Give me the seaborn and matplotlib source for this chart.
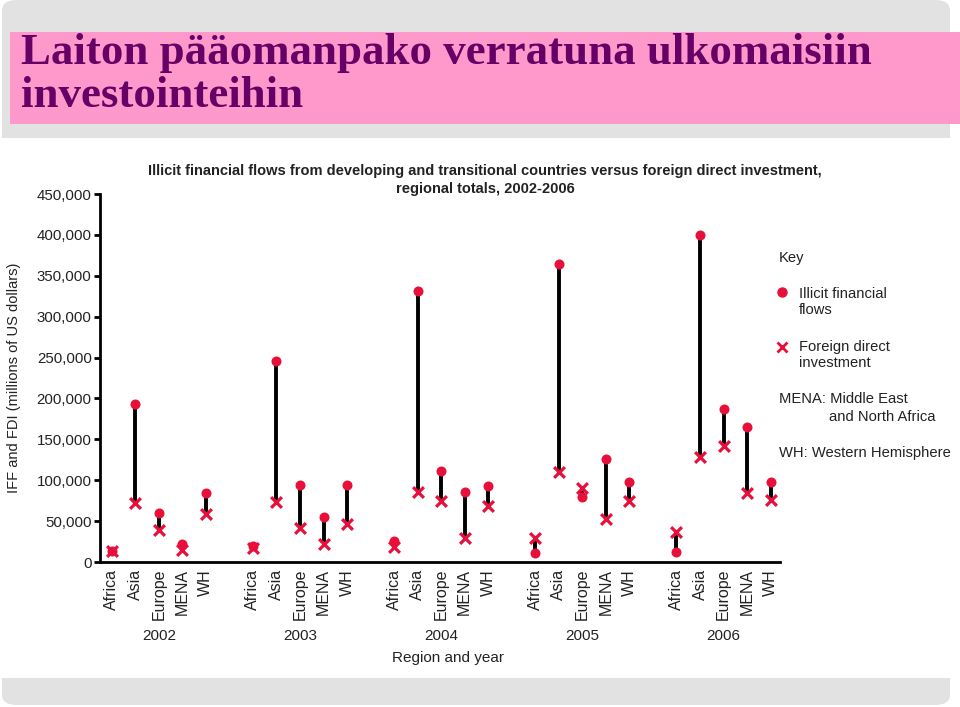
import matplotlib
matplotlib.use("Agg")
import matplotlib.pyplot as plt
import seaborn as sns
import pandas as pd
from matplotlib.patches import FancyBboxPatch, Rectangle

# ---- data ----
years = ["2002", "2003", "2004", "2005", "2006"]
regions = ["Africa", "Asia", "Europe", "MENA", "WH"]
iff = {
    "2002": [13000, 193000, 60000, 22000, 84000],
    "2003": [20000, 246000, 94000, 55000, 94000],
    "2004": [26000, 331000, 111000, 86000, 93000],
    "2005": [11000, 364000, 79000, 126000, 98000],
    "2006": [12000, 400000, 187000, 165000, 98000],
}
fdi = {
    "2002": [13000, 72000, 39000, 15000, 59000],
    "2003": [17000, 73000, 42000, 22000, 46000],
    "2004": [18000, 86000, 75000, 29000, 69000],
    "2005": [29000, 110000, 90000, 53000, 75000],
    "2006": [37000, 128000, 142000, 84000, 76000],
}
yticks = [0, 50000, 100000, 150000, 200000, 250000, 300000, 350000, 400000, 450000]

rows = []
for g, y in enumerate(years):
    for i, r in enumerate(regions):
        rows.append({"year": y, "region": r, "pos": g * 6 + i,
                     "IFF": iff[y][i], "FDI": fdi[y][i]})
df = pd.DataFrame(rows)

sns.set_style("white")
plt.rcParams["font.family"] = ["Liberation Sans", "DejaVu Sans"]

W, H = 960, 707
fig = plt.figure(figsize=(W / 100, H / 100), dpi=100)
fig.patch.set_facecolor("white")

def fx(px): return px / W
def fy(py): return 1 - py / H

# slide background
gray = "#e2e2e2"
fig.patches.append(FancyBboxPatch((fx(2), fy(150)), fx(948), 150 / H,
                                  boxstyle="round,pad=0,rounding_size=0.015",
                                  transform=fig.transFigure, facecolor=gray,
                                  edgecolor="none", zorder=0))
fig.patches.append(FancyBboxPatch((fx(2), fy(705)), fx(948), 40 / H,
                                  boxstyle="round,pad=0,rounding_size=0.015",
                                  transform=fig.transFigure, facecolor=gray,
                                  edgecolor="none", zorder=0))
fig.patches.append(Rectangle((0, fy(678)), 1, 540 / H, transform=fig.transFigure,
                             facecolor="white", edgecolor="none", zorder=1))
fig.patches.append(Rectangle((fx(10), fy(124)), fx(950), 92 / H, transform=fig.transFigure,
                             facecolor="#ff99cc", edgecolor="none", zorder=2))
tkw = dict(family=["Liberation Serif", "DejaVu Serif"], weight="bold", fontsize=32.3,
           color="#660066", va="baseline", ha="left", zorder=3)
fig.text(fx(21), fy(64), "Laiton pääomanpako verratuna ulkomaisiin", **tkw)
fig.text(fx(21), fy(107), "investointeihin", **tkw)

# chart title
fig.text(fx(485), fy(180), "Illicit financial flows from developing and transitional countries versus foreign direct investment,\nregional totals, 2002-2006",
         ha="center", va="center", fontsize=10.5, weight="bold", color="#222222",
         linespacing=1.3, zorder=3)

ax = fig.add_axes([fx(100), fy(562), fx(680), 368 / H])
ax.set_zorder(4)
ax.patch.set_alpha(0)

red = "#e8103a"
ax.vlines(df["pos"], df["FDI"], df["IFF"], color="black", lw=2.8, zorder=2)
sns.scatterplot(data=df, x="pos", y="IFF", ax=ax, color=red, s=52, marker="o",
                edgecolor=red, linewidth=0, zorder=3, legend=False)
sns.scatterplot(data=df, x="pos", y="FDI", ax=ax, color=red, s=60, marker="x",
                linewidth=2.3, zorder=4, legend=False)

ax.set_xlim(-0.5, 28.4)
ax.set_ylim(0, 450000)
ax.set_yticks(yticks)
ax.set_yticklabels([f"{v:,}" for v in yticks], fontsize=10.8, color="#222222")
ax.set_xticks(df["pos"])
ax.set_xticklabels(df["region"], rotation=90, fontsize=11.5, color="#222222")
ax.tick_params(axis="y", length=4, width=2, color="black", pad=2, left=True)
ax.tick_params(axis="x", length=0, pad=5)
for s in ["top", "right"]:
    ax.spines[s].set_visible(False)
for s in ["left", "bottom"]:
    ax.spines[s].set_color("black")
    ax.spines[s].set_linewidth(2)
ax.set_xlabel("")
ax.set_ylabel("IFF and FDI (millions of US dollars)", fontsize=10.5, color="#222222")
ax.yaxis.set_label_coords(-0.116, 0.5)

for g, y in enumerate(years):
    ax.text(g * 6 + 2, -0.2, y, transform=ax.get_xaxis_transform(),
            ha="center", va="center", fontsize=11, color="#222222")
ax.text(14.3, -0.262, "Region and year", transform=ax.get_xaxis_transform(),
        ha="center", va="center", fontsize=11, color="#222222")

# key
kc = "#222222"
kfs = 10.6
fig.text(fx(779), fy(258), "Key", fontsize=kfs, color=kc, va="center", zorder=5)
fig.lines.append(plt.Line2D([fx(782)], [fy(292)], marker="o", color=red, ms=6.5,
                            transform=fig.transFigure, zorder=5))
fig.text(fx(799), fy(302), "Illicit financial\nflows", fontsize=kfs, color=kc,
         va="center", linespacing=1.2, zorder=5)
fig.lines.append(plt.Line2D([fx(782)], [fy(347)], marker="x", color=red, ms=7, mew=2,
                            transform=fig.transFigure, zorder=5))
fig.text(fx(799), fy(355), "Foreign direct\ninvestment", fontsize=kfs, color=kc,
         va="center", linespacing=1.2, zorder=5)
fig.text(fx(779), fy(399), "MENA: Middle East", fontsize=kfs, color=kc, va="center", zorder=5)
fig.text(fx(829), fy(417), "and North Africa", fontsize=kfs, color=kc, va="center", zorder=5)
fig.text(fx(779), fy(453), "WH: Western Hemisphere", fontsize=kfs, color=kc, va="center", zorder=5)

fig.savefig("out.png", dpi=100)
